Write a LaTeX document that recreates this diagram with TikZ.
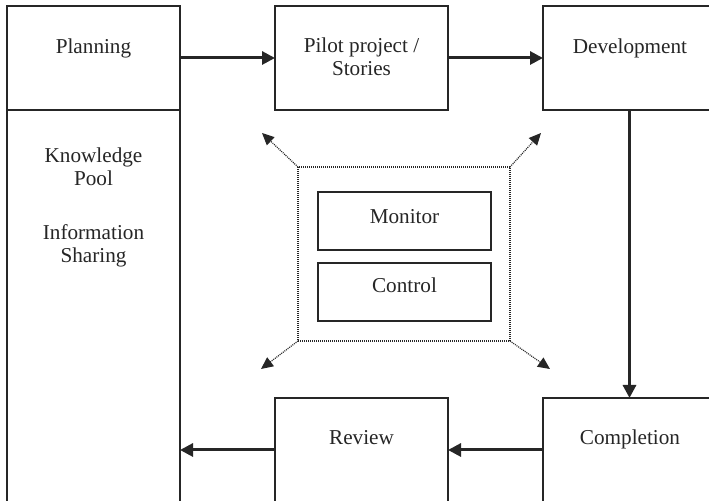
\documentclass[tikz,border=0pt]{standalone}
\usepackage{fontspec}
\setmainfont{Liberation Serif}
\usetikzlibrary{arrows.meta}
\begin{document}
\begin{tikzpicture}[x=0.5pt,y=-0.5pt,
  box/.style={draw=black!85,line width=1pt,inner sep=0pt,outer sep=0pt,
    minimum width=86.5pt,minimum height=52pt},
  lbl/.style={inner sep=0pt,anchor=base,font=\fontsize{10.6}{12.6}\selectfont,text=black!85},
  flow/.style={draw=black!85,line width=1.5pt,-{Triangle[length=6.5pt,width=6.5pt]}},
  spread/.style={draw=black!85,line width=0.6pt,dash pattern=on 0.5pt off 0.5pt,
    -{Triangle[length=6pt,width=5.5pt]}}]
\clip (0,0) rectangle (709,501);
\fill[white] (0,0) rectangle (709,501);

% process boxes
\node[box] (plan)  at (93.5,58) {};
\node[box,minimum height=196pt] (kp) at (93.5,306) {};
\node[box] (pilot) at (361.5,58) {};
\node[box] (dev)   at (629.5,58) {};
\node[box] (comp)  at (629.5,450) {};
\node[box] (rev)   at (361.5,450) {};

% monitoring block in the middle
\node[draw=black!85,line width=0.6pt,dash pattern=on 0.5pt off 0.5pt,
  inner sep=0pt,outer sep=0pt,minimum width=106pt,minimum height=87pt] (frame) at (404,254) {};
\node[box,minimum height=29pt] (mon) at (404.5,221) {};
\node[box,minimum height=29pt] (ctl) at (404.5,292) {};

% labels
\node[lbl] (tplan)  at (93.5,54)  {Planning};
\node[lbl] (tpil1)  at (361.5,53) {Pilot project /};
\node[lbl] (tpil2)  at (361.5,76) {Stories};
\node[lbl] (tdev)   at (630,54)   {Development};
\node[lbl] (tkp1)   at (93.5,163) {Knowledge};
\node[lbl] (tkp2)   at (93.5,186) {Pool};
\node[lbl] (tis1)   at (93.5,240) {Information};
\node[lbl] (tis2)   at (93.5,263) {Sharing};
\node[lbl] (tmon)   at (404.5,224) {Monitor};
\node[lbl] (tctl)   at (404.5,293) {Control};
\node[lbl] (trev)   at (361.5,445) {Review};
\node[lbl] (tcomp)  at (630,445)  {Completion};

% main flow
\draw[flow] (plan.east) -- (pilot.west);
\draw[flow] (pilot.east) -- (dev.west);
\draw[flow] (dev.south) -- (comp.north);
\draw[flow] (comp.west) -- (rev.east);
\draw[flow] (rev.west) -- (kp.east |- rev.west);

% influence of monitoring on every corner
\coordinate (nw) at (262,133);
\coordinate (ne) at (541,133);
\coordinate (sw) at (261,369);
\coordinate (se) at (550,369);
\draw[spread] (frame.north west) -- (nw);
\draw[spread] (frame.north east) -- (ne);
\draw[spread] (frame.south west) -- (sw);
\draw[spread] (frame.south east) -- (se);
\end{tikzpicture}
\end{document}
